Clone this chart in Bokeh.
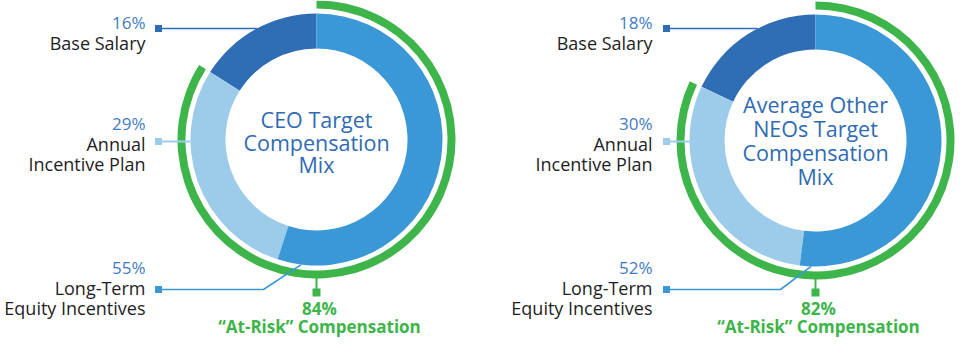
import numpy as np
from bokeh.plotting import figure
from bokeh.models import Range1d, ColumnDataSource
from bokeh.embed import file_html
from bokeh.resources import INLINE
from bokeh.core.properties import value

# ---------------- data ----------------
components = [["Base Salary"], ["Annual", "Incentive Plan"], ["Long-Term", "Equity Incentives"]]
ceo_mix = [16, 29, 55]
neo_mix = [18, 30, 52]
ceo_at_risk = 84
neo_at_risk = 82
titles = [["CEO Target", "Compensation", "Mix"],
          ["Average Other", "NEOs Target", "Compensation", "Mix"]]
at_risk_label = "\u201cAt-Risk\u201d Compensation"

seg_colors = ["#2F6DB5", "#9DCBEA", "#3A98D7"]
green = "#3DB54A"
pct_color = "#3F7CC4"
label_color = "#1E1E1E"
title_color = "#2F6BB3"
FONT = "Open Sans"

# ---------------- layout (pixels from top-left) ----------------
W, H = 955, 340


def Y(py):
    return H - py


R_IN, R_OUT = 91, 126
G_IN, G_OUT = 131, 139

panels = [
    dict(mix=ceo_mix, risk=ceo_at_risk, title=titles[0], cx=316, cy=139,
         lab_x=145, sq_x=158, bend_x=263, lti_ang=263,
         title_y=[119, 141.5, 164]),
    dict(mix=neo_mix, risk=neo_at_risk, title=titles[1], cx=815, cy=140,
         lab_x=652, sq_x=666, bend_x=780, lti_ang=268,
         title_y=[104, 128, 152, 176]),
]
pct_y = [22, 123, 267]
lab_y = [[42], [143, 163], [287, 307]]
line_y = [28, 141, 289]
SQ_G_Y = 292
RISK_Y = [307.5, 325.5]

p = figure(width=W, height=H, output_backend="svg", toolbar_location=None,
           x_range=Range1d(0, W), y_range=Range1d(0, H), min_border=0)
p.axis.visible = False
p.grid.visible = False
p.outline_line_color = None
p.background_fill_color = "white"
p.border_fill_color = "white"

for pn in panels:
    cx, cy = pn["cx"], pn["cy"]
    mix = np.array(pn["mix"], dtype=float)
    cum = np.concatenate([[0], np.cumsum(mix)])
    start = np.deg2rad(90 + cum[:-1] * 3.6)
    end = np.deg2rad(90 + cum[1:] * 3.6)
    src = ColumnDataSource(dict(x=[cx] * 3, y=[Y(cy)] * 3, s=start, e=end, c=seg_colors))
    p.annular_wedge(x="x", y="y", inner_radius=R_IN, outer_radius=R_OUT,
                    start_angle="s", end_angle="e", direction="anticlock",
                    fill_color="c", line_color=None, source=src)

    # at-risk green arc (clockwise from top)
    g_start = np.deg2rad(90 + (100 - pn["risk"]) * 3.6)
    g_end = np.deg2rad(90 + 360)
    p.annular_wedge(x=[cx], y=[Y(cy)], inner_radius=G_IN, outer_radius=G_OUT,
                    start_angle=g_start, end_angle=g_end, direction="anticlock",
                    fill_color=green, line_color=None)

    # leader lines
    sq = pn["sq_x"]
    yy = line_y[0]
    xe = cx - np.sqrt(R_OUT ** 2 - (cy - yy) ** 2)
    p.line([sq, xe], [Y(yy), Y(yy)], line_color=seg_colors[0], line_width=1.6)
    yy = line_y[1]
    xe = cx - np.sqrt(R_OUT ** 2 - (cy - yy) ** 2)
    p.line([sq, xe], [Y(yy), Y(yy)], line_color=seg_colors[1], line_width=2.2)
    yy = line_y[2]
    a = np.deg2rad(pn["lti_ang"])
    xe, ye = cx + R_OUT * np.cos(a), cy - R_OUT * np.sin(a)
    p.line([sq, pn["bend_x"], xe], [Y(yy), Y(yy), Y(ye)],
           line_color=seg_colors[2], line_width=1.6)
    p.scatter(x=[sq] * 3, y=[Y(v) for v in line_y], marker="square", size=7,
              fill_color=seg_colors, line_color=None)

    # green connector
    p.line([cx, cx], [Y(cy + G_OUT - 1), Y(SQ_G_Y)], line_color=green, line_width=2)
    p.scatter(x=[cx], y=[Y(SQ_G_Y)], marker="square", size=8, fill_color=green,
              line_color=None)

    # labels
    pct_txt = [f"{v}%" for v in pn["mix"]]
    p.text(x=[pn["lab_x"]] * 3, y=[Y(v) for v in pct_y], text=pct_txt,
           text_font=value(FONT), text_font_size="17px", text_color=pct_color,
           text_align="right", text_baseline="middle")
    lx, ly, lt = [], [], []
    for comp, ys in zip(components, lab_y):
        for t, yv in zip(comp, ys):
            lx.append(pn["lab_x"])
            ly.append(Y(yv))
            lt.append(t)
    p.text(x=lx, y=ly, text=lt, text_font=value(FONT), text_font_size="18px",
           text_color=label_color, text_align="right", text_baseline="middle")

    # title in centre
    p.text(x=[cx] * len(pn["title"]), y=[Y(v) for v in pn["title_y"]], text=pn["title"],
           text_font=value(FONT), text_font_size="21.5px",
           text_color=title_color, text_align="center", text_baseline="middle")

    # at-risk text
    p.text(x=[cx + 3, cx + 3], y=[Y(v) for v in RISK_Y],
           text=[f"{pn['risk']}%", at_risk_label], text_font=value(FONT),
           text_font_size="17px", text_font_style="bold", text_color=green,
           text_align="center", text_baseline="middle")

open("out.html", "w").write(file_html(p, INLINE))
